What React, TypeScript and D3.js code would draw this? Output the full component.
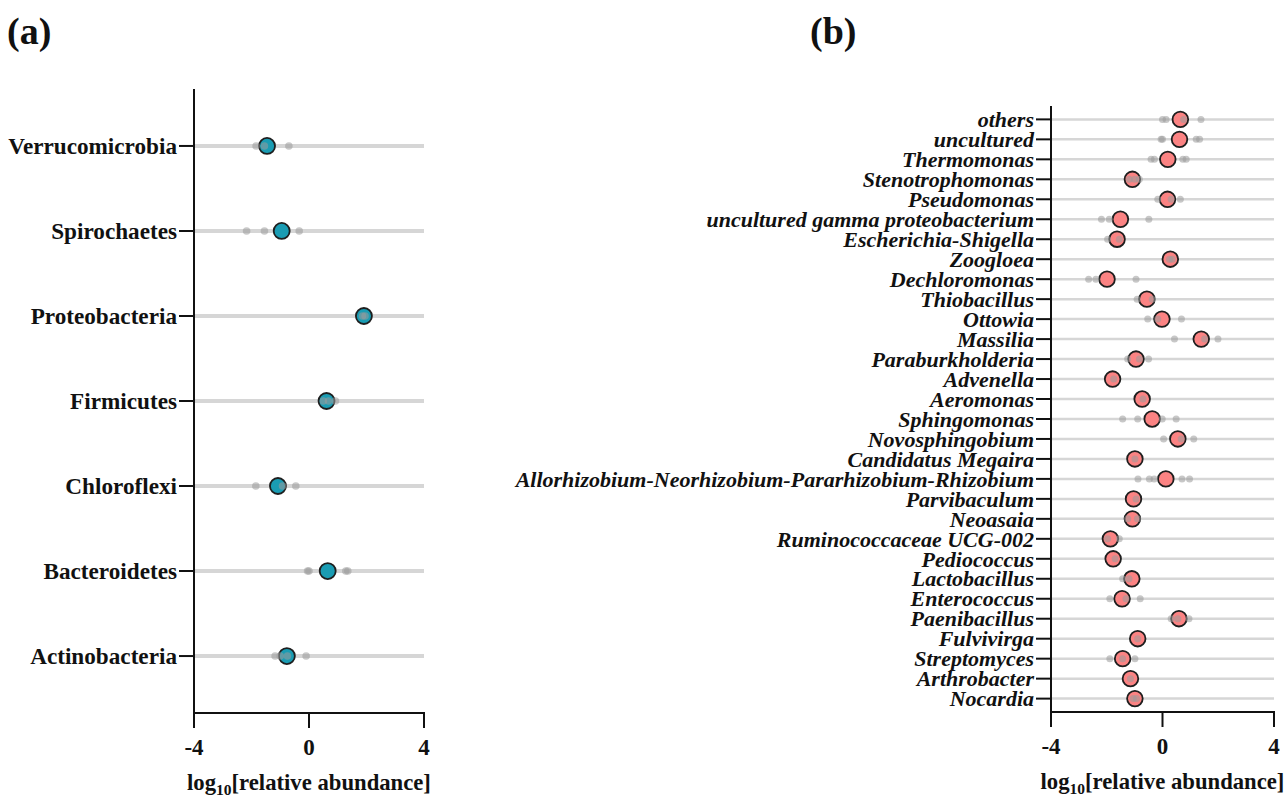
import React from "react";
import * as d3 from "d3";

const phyla = ["Verrucomicrobia", "Spirochaetes", "Proteobacteria", "Firmicutes", "Chloroflexi", "Bacteroidetes", "Actinobacteria"];
const phylaMean = [-1.46, -0.95, 1.91, 0.61, -1.08, 0.65, -0.77];
const phylaReps = [
  [-1.84, -1.55, -0.7],
  [-2.17, -1.55, -0.34],
  [1.86, 1.95],
  [0.5, 0.68, 0.92],
  [-1.85, -0.92, -0.46],
  [-0.05, 0.0, 1.28, 1.35],
  [-1.18, -1.0, -0.75, -0.1],
];

const genera = [
  "others", "uncultured", "Thermomonas", "Stenotrophomonas", "Pseudomonas",
  "uncultured gamma proteobacterium", "Escherichia-Shigella", "Zoogloea", "Dechloromonas", "Thiobacillus",
  "Ottowia", "Massilia", "Paraburkholderia", "Advenella", "Aeromonas",
  "Sphingomonas", "Novosphingobium", "Candidatus Megaira", "Allorhizobium-Neorhizobium-Pararhizobium-Rhizobium", "Parvibaculum",
  "Neoasaia", "Ruminococcaceae UCG-002", "Pediococcus", "Lactobacillus", "Enterococcus",
  "Paenibacillus", "Fulvivirga", "Streptomyces", "Arthrobacter", "Nocardia",
];
const generaMean = [
  0.64, 0.61, 0.19, -1.08, 0.18,
  -1.51, -1.63, 0.28, -1.99, -0.56,
  -0.02, 1.39, -0.95, -1.79, -0.73,
  -0.37, 0.55, -0.99, 0.12, -1.04,
  -1.08, -1.87, -1.77, -1.1, -1.45,
  0.59, -0.89, -1.43, -1.15, -0.99,
];
const generaReps = [
  [0.0, 0.13, 0.76, 1.38],
  [-0.05, 0.0, 1.21, 1.33],
  [-0.41, -0.29, 0.73, 0.85],
  [-1.19, -1.0, -0.83],
  [-0.17, 0.31, 0.64],
  [-2.19, -1.91, -0.49],
  [-1.97, -1.55],
  [0.25, 0.35],
  [-2.65, -2.39, -0.95],
  [-0.91, -0.37],
  [-0.53, -0.17, 0.68],
  [0.43, 1.51, 1.99],
  [-1.25, -0.83, -0.5],
  [-1.75],
  [-0.7],
  [-1.43, -0.89, -0.01, 0.49],
  [0.04, 0.67, 1.12],
  [-0.99],
  [-0.88, -0.47, -0.3, 0.7, 0.97],
  [-0.95],
  [-1.25, -0.9],
  [-1.97, -1.55],
  [-1.7],
  [-1.43, -1.2],
  [-1.89, -1.31, -0.8],
  [0.31, 0.55, 0.95],
  [-0.89],
  [-1.89, -1.43, -0.99],
  [-1.15],
  [-1.05, -0.93],
];

const xTicks = [-4, 0, 4];
const FONT = "'Liberation Serif', 'Times New Roman', serif";

type PanelProps = {
  cats: string[];
  means: number[];
  reps: number[][];
  x0: number;
  x1: number;
  yTop: number;
  yBot: number;
  fill: string;
  italic: boolean;
  labelSize: number;
  lineW: number;
  big: number;
  small: number;
};

function Panel(p: PanelProps) {
  const x = d3.scaleLinear().domain([-4, 4]).range([p.x0, p.x1]);
  const y = d3.scalePoint<string>().domain(p.cats).range([p.yTop, p.yBot]).padding(0.67);
  const tick = 15;
  return (
    <g>
      {p.cats.map((c) => (
        <line key={"l" + c} x1={x(-4)} x2={x(4)} y1={y(c)} y2={y(c)} stroke="#d6d6d6" strokeWidth={p.lineW} />
      ))}
      {p.cats.map((c, i) => (
        <circle key={"m" + c} cx={x(p.means[i])} cy={y(c)} r={p.big} fill={p.fill} stroke="#1e1e1e" strokeWidth={1.8} />
      ))}
      {p.cats.map((c, i) =>
        p.reps[i].map((v, j) => (
          <circle key={"r" + c + j} cx={x(v)} cy={y(c)} r={p.small} fill="#9a9a9a" fillOpacity={0.55} />
        ))
      )}
      <line x1={p.x0} x2={p.x0} y1={p.yTop} y2={p.yBot + 1} stroke="#111" strokeWidth={2} />
      <line x1={p.x0 - 1} x2={p.x1 + 1} y1={p.yBot} y2={p.yBot} stroke="#111" strokeWidth={2} />
      {p.cats.map((c) => (
        <g key={"t" + c}>
          <line x1={p.x0 - tick} x2={p.x0} y1={y(c)} y2={y(c)} stroke="#111" strokeWidth={2} />
          <text
            x={p.x0 - tick - 2}
            y={y(c)}
            dy="0.35em"
            textAnchor="end"
            fontFamily={FONT}
            fontWeight="bold"
            fontStyle={p.italic ? "italic" : "normal"}
            fontSize={p.labelSize}
            fill="#111"
          >
            {c}
          </text>
        </g>
      ))}
      {xTicks.map((t) => (
        <g key={"x" + t}>
          <line x1={x(t)} x2={x(t)} y1={p.yBot} y2={p.yBot + tick} stroke="#111" strokeWidth={2} />
          <text x={x(t)} y={p.yBot + 42} textAnchor="middle" fontFamily={FONT} fontWeight="bold" fontSize={23} fill="#111">
            {t}
          </text>
        </g>
      ))}
      <text x={(p.x0 + p.x1) / 2} y={p.yBot + 77} textAnchor="middle" fontFamily={FONT} fontWeight="bold" fontSize={22.7} fill="#111">
        log
        <tspan fontSize={15.5} dy={5}>10</tspan>
        <tspan dy={-5}>[relative abundance]</tspan>
      </text>
    </g>
  );
}

export default function App() {
  return (
    <svg width={1288} height={797} style={{ position: "absolute", left: 0, top: 0, background: "#fff" }}>
      <text x={7} y={44} fontFamily={FONT} fontWeight="bold" fontSize={38} fill="#111">(a)</text>
      <text x={810} y={44} fontFamily={FONT} fontWeight="bold" fontSize={38} fill="#111">(b)</text>
      <Panel
        cats={phyla}
        means={phylaMean}
        reps={phylaReps}
        x0={194}
        x1={424}
        yTop={89}
        yBot={713}
        fill="#1a9cb3"
        italic={false}
        labelSize={23.2}
        lineW={4}
        big={8}
        small={3.8}
      />
      <Panel
        cats={genera}
        means={generaMean}
        reps={generaReps}
        x0={1051}
        x1={1274}
        yTop={106}
        yBot={712}
        fill="#fb8383"
        italic={true}
        labelSize={22}
        lineW={2.5}
        big={7.8}
        small={3.5}
      />
    </svg>
  );
}
